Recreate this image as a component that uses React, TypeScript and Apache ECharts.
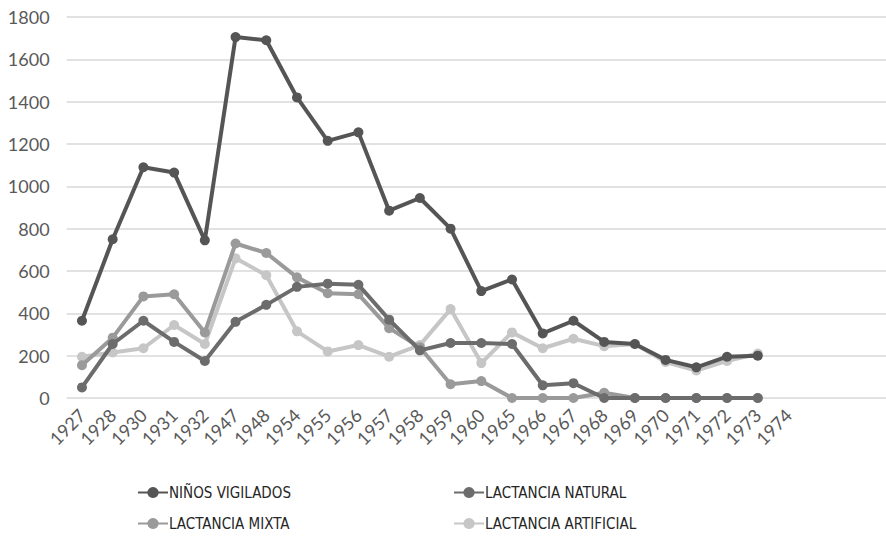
import React, { useEffect, useRef } from "react";
import * as echarts from "echarts";

const years = ["1927","1928","1930","1931","1932","1947","1948","1954","1955","1956","1957","1958","1959","1960","1965","1966","1967","1968","1969","1970","1971","1972","1973","1974"];
const yTicks = [0, 200, 400, 600, 800, 1000, 1200, 1400, 1600, 1800];
const ninosVigilados = [365, 750, 1090, 1065, 745, 1705, 1690, 1420, 1215, 1255, 885, 945, 800, 505, 560, 305, 365, 265, 255, 180, 145, 195, 200];
const lactanciaNatural = [50, 255, 365, 265, 175, 360, 440, 525, 540, 535, 370, 225, 260, 260, 255, 60, 70, 0, 0, 0, 0, 0, 0];
const lactanciaMixta = [155, 285, 480, 490, 310, 730, 685, 570, 495, 490, 330, 240, 65, 80, 0, 0, 0, 25, 0, 0, 0, 0, 0];
const lactanciaArtificial = [195, 215, 235, 345, 255, 660, 580, 315, 220, 250, 195, 250, 420, 165, 310, 235, 280, 245, 255, 170, 130, 175, 210];

const names = ["NIÑOS VIGILADOS", "LACTANCIA NATURAL", "LACTANCIA MIXTA", "LACTANCIA ARTIFICIAL"];
const colors = ["#555555", "#6c6c6c", "#9a9a9a", "#c6c6c6"];
const seriesData = [ninosVigilados, lactanciaNatural, lactanciaMixta, lactanciaArtificial];
const FONT = 'Lato, "Open Sans", sans-serif';
const LEGEND_FONT = '"DejaVu Sans Condensed", Lato, sans-serif';

export default function App() {
  const ref = useRef<HTMLDivElement>(null);
  useEffect(() => {
    if (!ref.current) return;
    const chart = echarts.init(ref.current, null, { renderer: "svg" });
    const cats = years.concat(["", "", ""]);
    const legendPos = [
      { left: 132, top: 480 },
      { left: 448, top: 480 },
      { left: 132, top: 511 },
      { left: 448, top: 511 },
    ];
    chart.setOption({
      animation: false,
      backgroundColor: "#ffffff",
      grid: { left: 66.6, right: 0, top: 17, bottom: 141, containLabel: false },
      legend: names.map((n, i) => ({
        orient: "horizontal",
        left: legendPos[i].left,
        top: legendPos[i].top,
        itemWidth: 30,
        itemHeight: 14,
        data: [n],
        textStyle: { fontFamily: LEGEND_FONT, fontSize: 15, color: "#262626", padding: [0, 0, 0, -4] },
      })),
      xAxis: {
        type: "category",
        data: cats,
        boundaryGap: true,
        axisLine: { show: false },
        axisTick: { show: false },
        axisLabel: {
          interval: 0,
          rotate: 45,
          margin: 14,
          fontFamily: FONT,
          fontSize: 18,
          color: "#595959",
        },
      },
      yAxis: {
        type: "value",
        min: yTicks[0],
        max: yTicks[yTicks.length - 1],
        interval: 200,
        axisLine: { show: false },
        axisTick: { show: false },
        axisLabel: {
          margin: 17,
          fontFamily: FONT,
          fontSize: 18,
          color: "#595959",
          formatter: (v: number) => String(v),
        },
        splitLine: { lineStyle: { color: "#d9d9d9", width: 1.5 } },
      },
      series: names.map((n, i) => ({
        name: n,
        type: "line",
        data: seriesData[i],
        symbol: "circle",
        symbolSize: 10,
        lineStyle: { width: 4, color: colors[i] },
        itemStyle: { color: colors[i] },
        z: 10 - i,
      })),
    });
    return () => chart.dispose();
  }, []);
  return (
    <div style={{ position: "absolute", left: 0, top: 0, width: 886, height: 539, overflow: "hidden", background: "#fff" }}>
      <div ref={ref} style={{ width: 896, height: 539 }} />
    </div>
  );
}
